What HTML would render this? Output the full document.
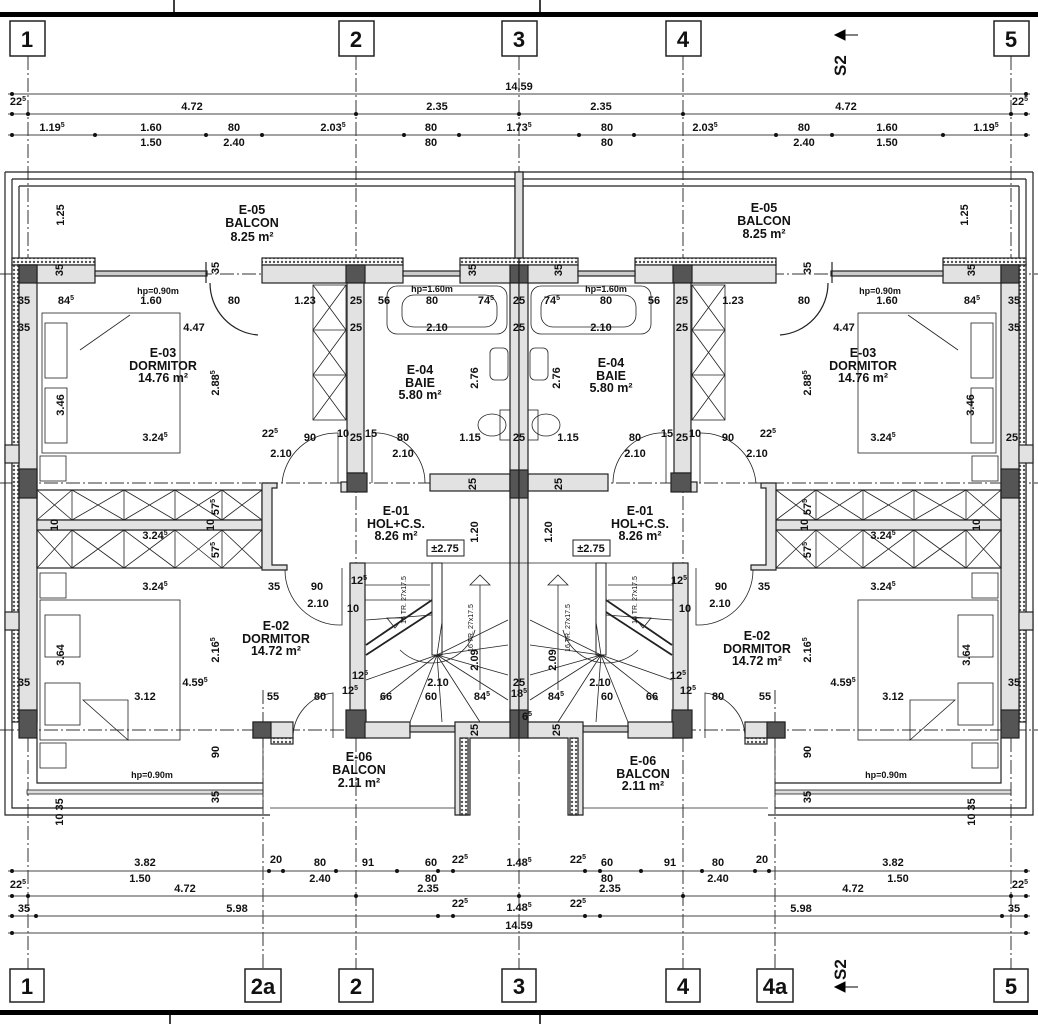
<!DOCTYPE html>
<html><head><meta charset="utf-8"><style>
html,body{margin:0;padding:0;background:#fff;}
svg{display:block;}
text{font-family:"Liberation Sans",Arial,sans-serif;font-weight:bold;fill:#111;}
.d{font-size:11px;text-anchor:middle;}
.r{font-size:12.5px;text-anchor:middle;}
.g{font-size:22px;text-anchor:middle;font-weight:bold;}
.s{font-size:7px;}
</style></head><body>
<svg width="1038" height="1024" viewBox="0 0 1038 1024" xmlns="http://www.w3.org/2000/svg">
<defs>
<pattern id="h" width="4" height="4" patternUnits="userSpaceOnUse"><rect width="4" height="4" fill="#fff"/><circle cx="2" cy="2" r="1.2" fill="#555"/></pattern>
</defs>
<rect x="0" y="12" width="1038" height="5" fill="#000"/>
<line x1="174" y1="0" x2="174" y2="12" stroke="#000" stroke-width="1.5"/>
<line x1="540" y1="0" x2="540" y2="12" stroke="#000" stroke-width="1.5"/>
<rect x="0" y="1010" width="1038" height="5" fill="#000"/>
<line x1="170" y1="1015" x2="170" y2="1024" stroke="#000" stroke-width="1.5"/>
<line x1="540" y1="1015" x2="540" y2="1024" stroke="#000" stroke-width="1.5"/>

<g stroke="#333" stroke-width="1" stroke-dasharray="14,3,2,3" fill="none">
<line x1="28" y1="56" x2="28" y2="970"/>
<line x1="356" y1="56" x2="356" y2="970"/>
<line x1="519" y1="56" x2="519" y2="970"/>
<line x1="683" y1="56" x2="683" y2="970"/>
<line x1="1011" y1="56" x2="1011" y2="970"/>
<line x1="263" y1="690" x2="263" y2="970"/>
<line x1="775" y1="690" x2="775" y2="970"/>
<line x1="0" y1="274" x2="1038" y2="274"/>
<line x1="0" y1="483" x2="1038" y2="483"/>
<line x1="0" y1="730" x2="1038" y2="730"/>
</g>
<g fill="#fff" stroke="#222" stroke-width="1.5">
<rect x="10" y="21" width="35" height="35"/><rect x="339" y="21" width="35" height="35"/><rect x="502" y="21" width="35" height="35"/><rect x="666" y="21" width="35" height="35"/><rect x="994" y="21" width="35" height="35"/>
<rect x="10" y="969" width="34" height="33"/><rect x="245" y="969" width="36" height="33"/><rect x="339" y="969" width="34" height="33"/><rect x="502" y="969" width="34" height="33"/><rect x="666" y="969" width="34" height="33"/><rect x="757" y="969" width="36" height="33"/><rect x="994" y="969" width="34" height="33"/>
</g>
<g class="g">
<text x="27" y="47">1</text><text x="356" y="47">2</text><text x="519" y="47">3</text><text x="683" y="47">4</text><text x="1011" y="47">5</text>
<text x="27" y="994">1</text><text x="263" y="994">2a</text><text x="356" y="994">2</text><text x="519" y="994">3</text><text x="683" y="994">4</text><text x="775" y="994">4a</text><text x="1011" y="994">5</text>
</g>
<text x="0" y="0" transform="translate(846,76) rotate(-90)" style="font-size:17px">S2</text>
<path d="M835 35 L845 30 L845 40 Z M845 35 H858" stroke="#000" fill="#000"/>
<text x="0" y="0" transform="translate(846,980) rotate(-90)" style="font-size:17px">S2</text>
<path d="M835 987 L845 982 L845 992 Z M845 987 H858" stroke="#000" fill="#000"/>

<g stroke="#444" stroke-width="1">
<line x1="8" y1="94" x2="1030" y2="94"/><line x1="8" y1="114" x2="1030" y2="114"/><line x1="8" y1="135" x2="1030" y2="135"/>
<line x1="8" y1="871" x2="1030" y2="871"/><line x1="8" y1="896" x2="1030" y2="896"/><line x1="8" y1="916" x2="1030" y2="916"/><line x1="8" y1="933" x2="1030" y2="933"/>
</g>
<g fill="#111">
<circle cx="12" cy="94" r="2"/><circle cx="1026" cy="94" r="2"/>
<circle cx="12" cy="114" r="2"/><circle cx="28" cy="114" r="2"/><circle cx="356" cy="114" r="2"/><circle cx="519" cy="114" r="2"/><circle cx="683" cy="114" r="2"/><circle cx="1011" cy="114" r="2"/><circle cx="1026" cy="114" r="2"/>
<circle cx="12" cy="135" r="2"/><circle cx="95" cy="135" r="2"/><circle cx="206" cy="135" r="2"/><circle cx="262" cy="135" r="2"/><circle cx="404" cy="135" r="2"/><circle cx="459" cy="135" r="2"/><circle cx="579" cy="135" r="2"/><circle cx="634" cy="135" r="2"/><circle cx="776" cy="135" r="2"/><circle cx="832" cy="135" r="2"/><circle cx="943" cy="135" r="2"/><circle cx="1026" cy="135" r="2"/>
<circle cx="12" cy="871" r="2"/><circle cx="269" cy="871" r="2"/><circle cx="283" cy="871" r="2"/><circle cx="336" cy="871" r="2"/><circle cx="397" cy="871" r="2"/><circle cx="438" cy="871" r="2"/><circle cx="453" cy="871" r="2"/><circle cx="585" cy="871" r="2"/><circle cx="600" cy="871" r="2"/><circle cx="641" cy="871" r="2"/><circle cx="702" cy="871" r="2"/><circle cx="755" cy="871" r="2"/><circle cx="769" cy="871" r="2"/><circle cx="1026" cy="871" r="2"/>
<circle cx="12" cy="896" r="2"/><circle cx="28" cy="896" r="2"/><circle cx="356" cy="896" r="2"/><circle cx="519" cy="896" r="2"/><circle cx="683" cy="896" r="2"/><circle cx="1011" cy="896" r="2"/><circle cx="1026" cy="896" r="2"/>
<circle cx="12" cy="916" r="2"/><circle cx="36" cy="916" r="2"/><circle cx="438" cy="916" r="2"/><circle cx="453" cy="916" r="2"/><circle cx="585" cy="916" r="2"/><circle cx="600" cy="916" r="2"/><circle cx="1002" cy="916" r="2"/><circle cx="1026" cy="916" r="2"/>
<circle cx="12" cy="933" r="2"/><circle cx="1026" cy="933" r="2"/>
</g>

<g id="L" stroke="#222" stroke-width="1.2" fill="none">
 <path d="M5 172 H519 M12 179 H519 M19 186 H519"/>
 <path d="M5 172 V815 H270 M12 179 V808 H263 M19 186 V258"/>
 <rect x="515" y="172" width="8" height="86" fill="#ddd"/>
 <rect x="12" y="258" width="83" height="7" fill="url(#h)"/>
 <rect x="262" y="258" width="141" height="7" fill="url(#h)"/>
 <rect x="460" y="258" width="59" height="7" fill="url(#h)"/>
 <rect x="18" y="265" width="77" height="18" fill="#e2e2e2"/>
 <rect x="262" y="265" width="141" height="18" fill="#e2e2e2"/>
 <rect x="460" y="265" width="59" height="18" fill="#e2e2e2"/>
 <rect x="95" y="271" width="112" height="5" fill="#ccc"/>
 <rect x="403" y="271" width="57" height="5" fill="#ccc"/>
 <path d="M206 283 V262 M210 283 A52 52 0 0 0 258 335" />
 <rect x="12" y="265" width="7" height="457" fill="url(#h)"/>
 <rect x="19" y="265" width="18" height="457" fill="#e2e2e2"/>
 <rect x="5" y="445" width="14" height="18" fill="#e2e2e2"/>
 <rect x="5" y="612" width="14" height="18" fill="#e2e2e2"/>
 <rect x="19" y="265" width="18" height="18" fill="#555"/>
 <rect x="19" y="469" width="18" height="29" fill="#555"/>
 <rect x="19" y="710" width="18" height="28" fill="#555"/>
 <rect x="346" y="265" width="19" height="18" fill="#555"/>
 <rect x="510" y="265" width="9" height="18" fill="#555"/>
 <rect x="347" y="283" width="17" height="190" fill="#e2e2e2"/>
 <rect x="347" y="473" width="20" height="19" fill="#555"/>
 <rect x="341" y="482" width="6" height="10" fill="#e2e2e2"/>
 <rect x="430" y="474" width="80" height="17" fill="#e2e2e2"/>
 <rect x="510" y="283" width="9" height="455" fill="#e2e2e2"/>
 <rect x="510" y="470" width="9" height="28" fill="#555"/>
 <rect x="510" y="710" width="9" height="28" fill="#555"/>
 <rect x="37" y="490" width="225" height="30"/>
 <rect x="37" y="530" width="225" height="38"/>
 <path d="M37 490 L72 520 M72 490 L37 520 M72 490 L124 520 M124 490 L72 520 M124 490 L175 520 M175 490 L124 520 M175 490 L222 520 M222 490 L175 520 M222 490 L262 520 M262 490 L222 520 M72 490 V520 M124 490 V520 M175 490 V520 M222 490 V520" stroke-width="0.8"/>
 <path d="M37 530 L72 568 M72 530 L37 568 M72 530 L124 568 M124 530 L72 568 M124 530 L175 568 M175 530 L124 568 M175 530 L222 568 M222 530 L175 568 M222 530 L262 568 M262 530 L222 568 M72 530 V568 M124 530 V568 M175 530 V568 M222 530 V568" stroke-width="0.8"/>
 <rect x="37" y="520" width="225" height="10" fill="#e2e2e2"/>
 <path d="M262 483 H277 V488 H272 V565 H287 V570 H262 Z" fill="#e2e2e2"/>
 <rect x="313" y="285" width="33" height="135" stroke-width="0.8"/>
 <path d="M313 285 L346 330 M346 285 L313 330 M313 330 L346 375 M346 330 L313 375 M313 375 L346 420 M346 375 L313 420 M313 330 H346 M313 375 H346" stroke-width="0.8"/>
 <rect x="42" y="313" width="138" height="140" stroke-width="0.8"/>
 <rect x="45" y="323" width="22" height="55" stroke-width="0.8"/>
 <rect x="45" y="388" width="22" height="55" stroke-width="0.8"/>
 <path d="M80 350 L130 315" stroke-width="0.8"/>
 <rect x="40" y="456" width="26" height="25" stroke-width="0.8"/>
 <rect x="40" y="573" width="26" height="25" stroke-width="0.8"/>
 <rect x="40" y="600" width="140" height="140" stroke-width="0.8"/>
 <rect x="45" y="615" width="35" height="42" stroke-width="0.8"/>
 <rect x="45" y="683" width="35" height="42" stroke-width="0.8"/>
 <path d="M83 700 H128 V740 Z" stroke-width="0.8"/>
 <rect x="40" y="743" width="26" height="25" stroke-width="0.8"/>
 <path d="M37 738 V783 H263" />
 <rect x="27" y="790" width="236" height="4" fill="#ddd" stroke-width="0.8"/>
 <rect x="253" y="722" width="40" height="16" fill="#e2e2e2"/>
 <rect x="253" y="722" width="18" height="16" fill="#555"/>
 <rect x="271" y="738" width="22" height="6" fill="url(#h)"/>
 <path d="M293 738 A45 45 0 0 1 333 693 V738" stroke-width="0.8"/>
 <path d="M282 483 A55 55 0 0 1 338 433 V483" stroke-width="0.8"/>
 <path d="M372 433 A50 50 0 0 1 425 483 M372 433 V483" stroke-width="0.8"/>
 <path d="M285 570 A55 55 0 0 0 342 625 V568" stroke-width="0.8"/>
 <rect x="387" y="286" width="120" height="48" rx="10" stroke-width="0.8"/>
 <rect x="402" y="295" width="95" height="32" rx="12" stroke-width="0.8"/>
 <rect x="490" y="348" width="18" height="32" rx="5" stroke-width="0.8"/>
 <ellipse cx="492" cy="425" rx="14" ry="11" stroke-width="0.8"/>
 <rect x="500" y="410" width="10" height="30" stroke-width="0.8"/>
 <rect x="350" y="563" width="15" height="175" fill="#e2e2e2"/>
 <rect x="346" y="710" width="20" height="28" fill="#555"/>
 <rect x="365" y="722" width="45" height="16" fill="#e2e2e2"/>
 <rect x="410" y="726" width="45" height="6" fill="#ccc"/>
 <path d="M365 563 H519 M365 585 H430 M365 600 H430" stroke-width="0.8"/>
 <rect x="432" y="563" width="10" height="92" stroke-width="1"/>
 <path d="M366 645 L432 600 M366 655 L432 612" stroke-width="1.8"/>
 <path d="M437 655 L366 680 M437 655 L380 700 M437 655 L410 722 M437 655 L442 722 M437 655 L480 722 M437 655 L508 700 M437 655 L508 675 M437 655 L508 645 M437 655 L508 620 M437 655 L442 622 M366 620 L432 615" stroke-width="0.8"/>
 <path d="M400 650 A45 45 0 0 0 475 630" stroke-width="0.8"/>
 <path d="M470 585 L480 575 L490 585 Z M480 585 V690" stroke-width="0.8"/>
 <path d="M387 618 L403 618 L395 628 Z" stroke-width="0.8"/>
 <path d="M455 722 H510 V738 H470 V815 H455 Z" fill="#e2e2e2"/>
 <rect x="460" y="738" width="8" height="77" fill="url(#h)"/>
 <path d="M270 808 H455" stroke-width="0.8"/>
 <path d="M263 738 V808" stroke-width="0.8"/>
</g>
<use href="#L" transform="matrix(-1 0 0 1 1038 0)"/>
<rect x="573" y="540" width="37" height="16" fill="#fff" stroke="#222"/>
<rect x="427" y="540" width="37" height="16" fill="#fff" stroke="#222"/>

<g class="d">
<text x="519" y="90">14.59</text>
<text x="18" y="105">22<tspan class="s" dy="-4">5</tspan></text><text x="1020" y="105">22<tspan class="s" dy="-4">5</tspan></text>
<text x="192" y="110">4.72</text><text x="437" y="110">2.35</text><text x="601" y="110">2.35</text><text x="846" y="110">4.72</text>
<text x="52" y="131">1.19<tspan class="s" dy="-4">5</tspan></text><text x="151" y="131">1.60</text><text x="234" y="131">80</text><text x="333" y="131">2.03<tspan class="s" dy="-4">5</tspan></text><text x="431" y="131">80</text><text x="519" y="131">1.73<tspan class="s" dy="-4">5</tspan></text>
<text x="607" y="131">80</text><text x="705" y="131">2.03<tspan class="s" dy="-4">5</tspan></text><text x="804" y="131">80</text><text x="887" y="131">1.60</text><text x="986" y="131">1.19<tspan class="s" dy="-4">5</tspan></text>
<text x="151" y="146">1.50</text><text x="234" y="146">2.40</text><text x="431" y="146">80</text><text x="607" y="146">80</text><text x="804" y="146">2.40</text><text x="887" y="146">1.50</text>

<text x="158" y="294" style="font-size:9px">hp=0.90m</text><text x="880" y="294" style="font-size:9px">hp=0.90m</text>
<text x="432" y="292" style="font-size:9px">hp=1.60m</text><text x="606" y="292" style="font-size:9px">hp=1.60m</text>
<text x="24" y="304">35</text><text x="66" y="304">84<tspan class="s" dy="-4">5</tspan></text><text x="151" y="304">1.60</text><text x="234" y="304">80</text><text x="305" y="304">1.23</text><text x="356" y="304">25</text><text x="384" y="304">56</text><text x="432" y="304">80</text><text x="486" y="304">74<tspan class="s" dy="-4">5</tspan></text><text x="519" y="304">25</text>
<text x="1014" y="304">35</text><text x="972" y="304">84<tspan class="s" dy="-4">5</tspan></text><text x="887" y="304">1.60</text><text x="804" y="304">80</text><text x="733" y="304">1.23</text><text x="682" y="304">25</text><text x="654" y="304">56</text><text x="606" y="304">80</text><text x="552" y="304">74<tspan class="s" dy="-4">5</tspan></text>
<text x="24" y="331">35</text><text x="194" y="331">4.47</text><text x="356" y="331">25</text><text x="437" y="331">2.10</text><text x="519" y="331">25</text>
<text x="1014" y="331">35</text><text x="844" y="331">4.47</text><text x="682" y="331">25</text><text x="601" y="331">2.10</text>
<text x="155" y="441">3.24<tspan class="s" dy="-4">5</tspan></text><text x="270" y="437">22<tspan class="s" dy="-4">5</tspan></text><text x="310" y="441">90</text><text x="343" y="437">10</text><text x="356" y="441">25</text><text x="371" y="437">15</text><text x="403" y="441">80</text><text x="470" y="441">1.15</text><text x="519" y="441">25</text>
<text x="883" y="441">3.24<tspan class="s" dy="-4">5</tspan></text><text x="768" y="437">22<tspan class="s" dy="-4">5</tspan></text><text x="728" y="441">90</text><text x="695" y="437">10</text><text x="682" y="441">25</text><text x="667" y="437">15</text><text x="635" y="441">80</text><text x="568" y="441">1.15</text><text x="1012" y="441">25</text>
<text x="281" y="457">2.10</text><text x="403" y="457">2.10</text><text x="635" y="457">2.10</text><text x="757" y="457">2.10</text>
<text x="155" y="539">3.24<tspan class="s" dy="-4">5</tspan></text><text x="883" y="539">3.24<tspan class="s" dy="-4">5</tspan></text>
<text x="155" y="590">3.24<tspan class="s" dy="-4">5</tspan></text><text x="274" y="590">35</text><text x="317" y="590">90</text><text x="359" y="584">12<tspan class="s" dy="-4">5</tspan></text>
<text x="883" y="590">3.24<tspan class="s" dy="-4">5</tspan></text><text x="764" y="590">35</text><text x="721" y="590">90</text><text x="679" y="584">12<tspan class="s" dy="-4">5</tspan></text>
<text x="318" y="607">2.10</text><text x="353" y="612">10</text><text x="720" y="607">2.10</text><text x="685" y="612">10</text>
<text x="360" y="679">12<tspan class="s" dy="-4">5</tspan></text><text x="678" y="679">12<tspan class="s" dy="-4">5</tspan></text>
<text x="24" y="686">35</text><text x="195" y="686">4.59<tspan class="s" dy="-4">5</tspan></text><text x="438" y="686">2.10</text><text x="519" y="686">25</text>
<text x="1014" y="686">35</text><text x="843" y="686">4.59<tspan class="s" dy="-4">5</tspan></text><text x="600" y="686">2.10</text>
<text x="145" y="700">3.12</text><text x="273" y="700">55</text><text x="320" y="700">80</text><text x="350" y="694">12<tspan class="s" dy="-4">5</tspan></text><text x="386" y="700">66</text><text x="431" y="700">60</text><text x="482" y="700">84<tspan class="s" dy="-4">5</tspan></text><text x="519" y="697">18<tspan class="s" dy="-4">5</tspan></text>
<text x="893" y="700">3.12</text><text x="765" y="700">55</text><text x="718" y="700">80</text><text x="688" y="694">12<tspan class="s" dy="-4">5</tspan></text><text x="652" y="700">66</text><text x="607" y="700">60</text><text x="556" y="700">84<tspan class="s" dy="-4">5</tspan></text>
<text x="527" y="720">6<tspan class="s" dy="-4">5</tspan></text>
<text x="152" y="778" style="font-size:9px">hp=0.90m</text><text x="886" y="778" style="font-size:9px">hp=0.90m</text>

<text x="145" y="866">3.82</text><text x="276" y="863">20</text><text x="320" y="866">80</text><text x="368" y="866">91</text><text x="431" y="866">60</text><text x="460" y="863">22<tspan class="s" dy="-4">5</tspan></text><text x="519" y="866">1.48<tspan class="s" dy="-4">5</tspan></text>
<text x="893" y="866">3.82</text><text x="762" y="863">20</text><text x="718" y="866">80</text><text x="670" y="866">91</text><text x="607" y="866">60</text><text x="578" y="863">22<tspan class="s" dy="-4">5</tspan></text>
<text x="140" y="882">1.50</text><text x="320" y="882">2.40</text><text x="431" y="882">80</text><text x="898" y="882">1.50</text><text x="718" y="882">2.40</text><text x="607" y="882">80</text>
<text x="18" y="888">22<tspan class="s" dy="-4">5</tspan></text><text x="185" y="892">4.72</text><text x="428" y="892">2.35</text><text x="610" y="892">2.35</text><text x="853" y="892">4.72</text><text x="1020" y="888">22<tspan class="s" dy="-4">5</tspan></text>
<text x="24" y="912">35</text><text x="237" y="912">5.98</text><text x="460" y="907">22<tspan class="s" dy="-4">5</tspan></text><text x="519" y="911">1.48<tspan class="s" dy="-4">5</tspan></text><text x="578" y="907">22<tspan class="s" dy="-4">5</tspan></text><text x="801" y="912">5.98</text><text x="1014" y="912">35</text>
<text x="519" y="929">14.59</text>
<text x="445" y="552">±2.75</text><text x="591" y="552">±2.75</text>
</g>
<g class="d">
<text transform="translate(64,215) rotate(-90)">1.25</text><text transform="translate(968,215) rotate(-90)">1.25</text>
<text transform="translate(63,270) rotate(-90)">35</text><text transform="translate(219,268) rotate(-90)">35</text><text transform="translate(476,270) rotate(-90)">35</text>
<text transform="translate(975,270) rotate(-90)">35</text><text transform="translate(811,268) rotate(-90)">35</text><text transform="translate(562,270) rotate(-90)">35</text>
<text transform="translate(219,383) rotate(-90)">2.88<tspan class="s" dy="-4">5</tspan></text><text transform="translate(811,383) rotate(-90)">2.88<tspan class="s" dy="-4">5</tspan></text>
<text transform="translate(64,405) rotate(-90)">3.46</text><text transform="translate(974,405) rotate(-90)">3.46</text>
<text transform="translate(478,378) rotate(-90)">2.76</text><text transform="translate(560,378) rotate(-90)">2.76</text>
<text transform="translate(476,484) rotate(-90)">25</text><text transform="translate(562,484) rotate(-90)">25</text>
<text transform="translate(219,507) rotate(-90)">57<tspan class="s" dy="-4">5</tspan></text><text transform="translate(811,507) rotate(-90)">57<tspan class="s" dy="-4">5</tspan></text>
<text transform="translate(58,525) rotate(-90)">10</text><text transform="translate(214,525) rotate(-90)">10</text><text transform="translate(980,525) rotate(-90)">10</text><text transform="translate(808,525) rotate(-90)">10</text>
<text transform="translate(219,550) rotate(-90)">57<tspan class="s" dy="-4">5</tspan></text><text transform="translate(811,550) rotate(-90)">57<tspan class="s" dy="-4">5</tspan></text>
<text transform="translate(478,532) rotate(-90)">1.20</text><text transform="translate(552,532) rotate(-90)">1.20</text>
<text transform="translate(219,650) rotate(-90)">2.16<tspan class="s" dy="-4">5</tspan></text><text transform="translate(811,650) rotate(-90)">2.16<tspan class="s" dy="-4">5</tspan></text>
<text transform="translate(64,655) rotate(-90)">3.64</text><text transform="translate(970,655) rotate(-90)">3.64</text>
<text transform="translate(478,660) rotate(-90)">2.09</text><text transform="translate(556,660) rotate(-90)">2.09</text>
<text transform="translate(478,730) rotate(-90)">25</text><text transform="translate(560,730) rotate(-90)">25</text>
<text transform="translate(219,752) rotate(-90)">90</text><text transform="translate(811,752) rotate(-90)">90</text>
<text transform="translate(63,812) rotate(-90)">10 35</text><text transform="translate(219,797) rotate(-90)">35</text>
<text transform="translate(975,812) rotate(-90)">10 35</text><text transform="translate(811,797) rotate(-90)">35</text>
<text transform="translate(406,600) rotate(-90)" style="font-size:7px;font-weight:normal">16 TR. 27x17.5</text>
<text transform="translate(473,628) rotate(-90)" style="font-size:7px;font-weight:normal">16 TR. 27x17.5</text>
<text transform="translate(637,600) rotate(-90)" style="font-size:7px;font-weight:normal">16 TR. 27x17.5</text>
<text transform="translate(570,628) rotate(-90)" style="font-size:7px;font-weight:normal">16 TR. 27x17.5</text>
</g>
<g class="r">
<text x="252" y="214">E-05</text><text x="252" y="227">BALCON</text><text x="252" y="241">8.25 m²</text>
<text x="764" y="212">E-05</text><text x="764" y="225">BALCON</text><text x="764" y="238">8.25 m²</text>
<text x="163" y="357">E-03</text><text x="163" y="370">DORMITOR</text><text x="163" y="382">14.76 m²</text>
<text x="863" y="357">E-03</text><text x="863" y="370">DORMITOR</text><text x="863" y="382">14.76 m²</text>
<text x="420" y="374">E-04</text><text x="420" y="387">BAIE</text><text x="420" y="399">5.80 m²</text>
<text x="611" y="367">E-04</text><text x="611" y="380">BAIE</text><text x="611" y="392">5.80 m²</text>
<text x="396" y="515">E-01</text><text x="396" y="528">HOL+C.S.</text><text x="396" y="540">8.26 m²</text>
<text x="640" y="515">E-01</text><text x="640" y="528">HOL+C.S.</text><text x="640" y="540">8.26 m²</text>
<text x="276" y="630">E-02</text><text x="276" y="643">DORMITOR</text><text x="276" y="655">14.72 m²</text>
<text x="757" y="640">E-02</text><text x="757" y="653">DORMITOR</text><text x="757" y="665">14.72 m²</text>
<text x="359" y="761">E-06</text><text x="359" y="774">BALCON</text><text x="359" y="787">2.11 m²</text>
<text x="643" y="765">E-06</text><text x="643" y="778">BALCON</text><text x="643" y="790">2.11 m²</text>
</g>
</svg>
</body></html>
